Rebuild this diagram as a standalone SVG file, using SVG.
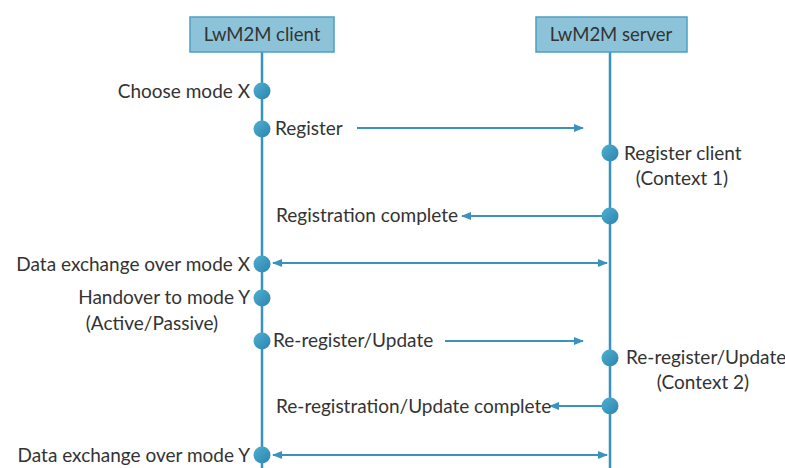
<svg xmlns="http://www.w3.org/2000/svg" width="785" height="468" viewBox="0 0 785 468">
<defs>
<style>
.box{fill:#8DC3D9;stroke:#4E9EC3;stroke-width:1.5}
.life{stroke:#3A93BF;stroke-width:2.5;fill:none}
.msg{stroke:#3A93BF;stroke-width:2;fill:none}
.dot{fill:url(#dg)}
text{font-family:Lato,"Open Sans","Liberation Sans",sans-serif;font-size:19px;fill:#333}
.h{font-size:18.5px}
</style>
<linearGradient id="dg" x1="0" y1="0" x2="1" y2="1">
<stop offset="0" stop-color="#4FB0CF"/>
<stop offset="1" stop-color="#2C83B2"/>
</linearGradient>
<marker id="ah" viewBox="0 0 10 10" refX="9" refY="5" markerWidth="10" markerHeight="10" markerUnits="userSpaceOnUse" orient="auto-start-reverse">
<path d="M0,1 L10,5 L0,9 Z" fill="#3A93BF"/>
</marker>
</defs>
<g id="client">
<line class="life" x1="262" y1="52" x2="262" y2="468"/>
<rect class="box" x="190" y="17" width="144" height="35"/>
<text class="h" x="262" y="41" text-anchor="middle">LwM2M client</text>
</g>
<g id="server">
<line class="life" x1="610" y1="52" x2="610" y2="468"/>
<rect class="box" x="536" y="17" width="151" height="35"/>
<text class="h" x="611" y="41" text-anchor="middle">LwM2M server</text>
</g>
<g id="connectors">
<line class="msg" x1="357" y1="128" x2="583" y2="128" marker-end="url(#ah)"/>
<line class="msg" x1="605" y1="216" x2="462" y2="216" marker-end="url(#ah)"/>
<line class="msg" x1="273" y1="263" x2="607" y2="263" marker-start="url(#ah)" marker-end="url(#ah)"/>
<line class="msg" x1="445" y1="341" x2="583" y2="341" marker-end="url(#ah)"/>
<line class="msg" x1="602" y1="406" x2="550" y2="406" marker-end="url(#ah)"/>
<line class="msg" x1="273" y1="455" x2="607" y2="455" marker-start="url(#ah)" marker-end="url(#ah)"/>
</g>
<g id="choose-mode-x">
<circle class="dot" cx="262" cy="91" r="8.5"/>
<text x="250" y="98" text-anchor="end">Choose mode X</text>
</g>
<g id="register">
<circle class="dot" cx="262" cy="129" r="8.5"/>
<text x="275" y="135">Register</text>
</g>
<g id="register-client">
<circle class="dot" cx="610" cy="153" r="8.5"/>
<text x="624" y="160">Register client</text>
<text x="682" y="185" text-anchor="middle">(Context 1)</text>
</g>
<g id="registration-complete">
<circle class="dot" cx="610" cy="216" r="8.5"/>
<text x="276" y="222">Registration complete</text>
</g>
<g id="data-exchange-x">
<circle class="dot" cx="262" cy="264" r="8.5"/>
<text x="250" y="271" text-anchor="end">Data exchange over mode X</text>
</g>
<g id="handover">
<circle class="dot" cx="262" cy="298" r="8.5"/>
<text x="250" y="304" text-anchor="end">Handover to mode Y</text>
<text x="152" y="330" text-anchor="middle">(Active/Passive)</text>
</g>
<g id="re-register-client">
<circle class="dot" cx="262" cy="341" r="8.5"/>
<text x="273" y="347">Re-register/Update</text>
</g>
<g id="re-register-server">
<circle class="dot" cx="610" cy="358" r="8.5"/>
<text x="626" y="364">Re-register/Update</text>
<text x="703" y="389" text-anchor="middle">(Context 2)</text>
</g>
<g id="re-registration-complete">
<circle class="dot" cx="610" cy="406" r="8.5"/>
<text x="276" y="413">Re-registration/Update complete</text>
</g>
<g id="data-exchange-y">
<circle class="dot" cx="262" cy="455" r="8.5"/>
<text x="250" y="462" text-anchor="end">Data exchange over mode Y</text>
</g>
</svg>
